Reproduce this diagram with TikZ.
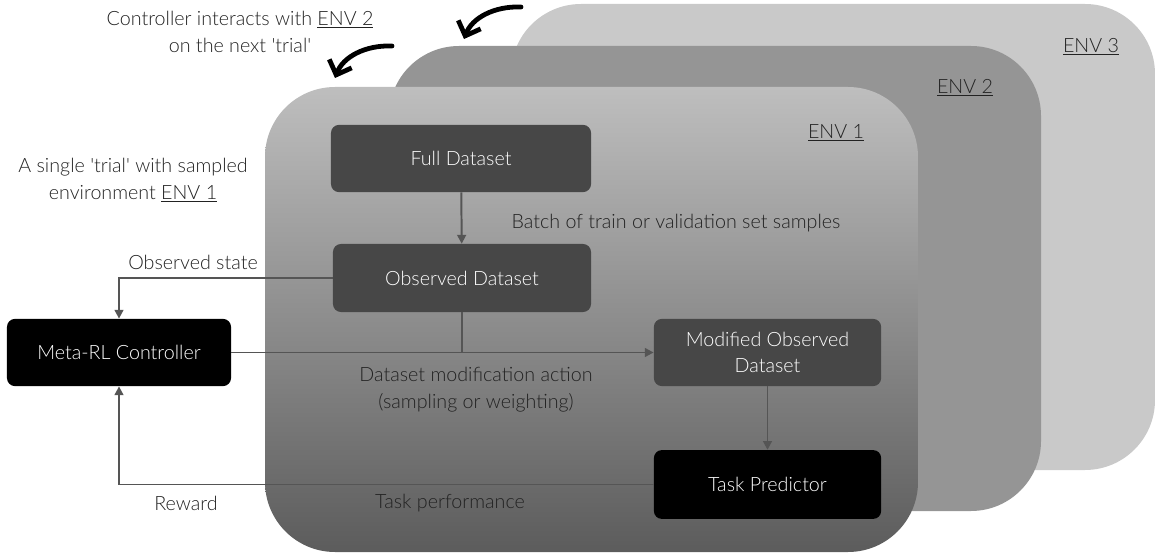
\documentclass[tikz,border=0pt]{standalone}
\usepackage{fontspec}
\setmainfont{Lato}[UprightFont={* Light}]
\usepackage{tikz}
\usetikzlibrary{arrows.meta,calc,positioning}
\definecolor{envlight}{HTML}{C9C9C9}
\definecolor{envmid}{HTML}{959595}
\definecolor{envtop}{HTML}{BEBEBE}
\definecolor{envbottom}{HTML}{5C5C5C}
\definecolor{boxgray}{HTML}{474747}
\definecolor{linkgray}{HTML}{555555}
\definecolor{textdark}{HTML}{222222}
\tikzset{
databox/.style={
	rounded corners=0.2cm,
	fill=boxgray,
	text=white,
	align=center,
	inner sep=2pt,
	font=\fontsize{14}{18}\selectfont
},
agentbox/.style={databox, fill=black},
link/.style={-{Triangle[length=2.2mm,width=2.2mm]}, line width=1.4pt, draw=linkgray},
plainlink/.style={line width=1.4pt, draw=linkgray},
caption/.style={font=\fontsize{14}{19}\selectfont, text=textdark, align=center, inner sep=0pt},
nextarrow/.style={-{Straight Barb[length=3mm,width=6mm]}, line width=3.4pt, line cap=round, black}
}

\begin{document}
\begin{tikzpicture}[x=0.025cm,y=-0.025cm]
\useasboundingbox (0,0) rectangle (1155,556);

% stacked environments, back to front
\fill[envlight,rounded corners=1.75cm] (511,4) rectangle (1155,470);
\fill[envmid,rounded corners=1.75cm] (389,46) rectangle (1041,511);
\shade[top color=envtop,bottom color=envbottom,rounded corners=1.75cm] (265,87) rectangle (918,552);

\node[caption] (env3) at (1091,47) {\underline{ENV 3}};
\node[caption] (env2) at (965,88) {\underline{ENV 2}};
\node[caption] (env1) at (836,133) {\underline{ENV 1}};

% boxes
\node[databox,minimum width=6.5cm,minimum height=1.68cm] (full) at (461,158.5) {Full Dataset};
\node[databox,minimum width=6.45cm,minimum height=1.7cm] (obs) at (462,278) {Observed Dataset};
\node[agentbox,minimum width=5.6cm,minimum height=1.68cm] (meta) at (119,352.5) {Meta-RL Controller};
\node[databox,minimum width=5.68cm,minimum height=1.68cm] (mod) at (767.5,352.5) {Modified Observed\\Dataset};
\node[agentbox,minimum width=5.68cm,minimum height=1.72cm] (task) at (767.5,484.5) {Task Predictor};

% connectors
\draw[link] (full) -- (obs);
\draw[link] (obs.west) -| (meta.north);
\draw[plainlink] (obs) -- (obs |- meta);
\draw[link] (meta) -- (mod);
\draw[link] (mod) -- (task);
\draw[link] (task.west) -| (meta.south);

% labels
\node[caption] (batch) at (676,223) {Batch of train or validation set samples};
\node[caption] (state) at (193,262) {Observed state};
\node[caption] (action) at (476,390) {Dataset modification action\\(sampling or weighting)};
\node[caption] (reward) at (186,503) {Reward};
\node[caption] (perf) at (450,503) {Task performance};
\node[caption] (next) at (240,32) {Controller interacts with \underline{ENV 2}\\on the next \textquotesingle trial\textquotesingle};
\node[caption] (single) at (133,180) {A single \textquotesingle trial\textquotesingle{} with sampled\\environment \underline{ENV 1}};

% trial-to-trial arrows
\coordinate (tailA) at (521,7);
\coordinate (tipA) at (464,39);
\coordinate (tailB) at (392,46);
\coordinate (tipB) at (335,78);
\draw[nextarrow] (tailA) .. controls (494,6) and (472,18) .. (tipA);
\draw[nextarrow] (tailB) .. controls (365,45) and (343,57) .. (tipB);
\end{tikzpicture}
\end{document}
